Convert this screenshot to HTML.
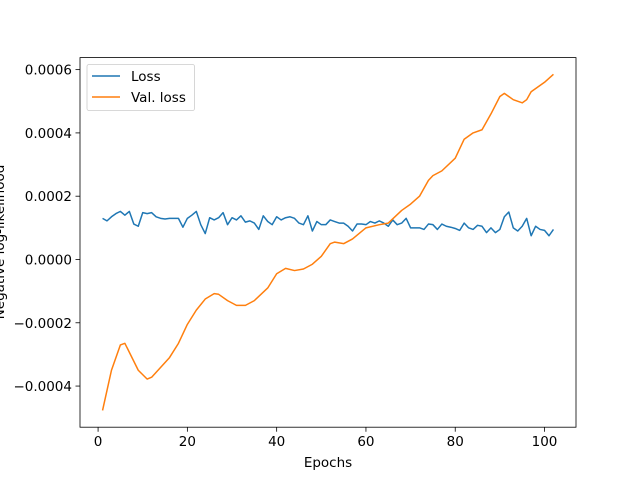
<!DOCTYPE html>
<html><head><meta charset="utf-8"><style>
body{margin:0;background:#fff;}
text{font-family:"DejaVu Sans","Liberation Sans",sans-serif;font-size:13.5px;fill:#000;}
</style></head><body>
<svg id="chart" width="640" height="480" xmlns="http://www.w3.org/2000/svg">
<rect width="640" height="480" fill="#fff"/>
<g id="plot"></g>
</svg>
<script>
const lossValues=[1.3,1.22,1.35,1.45,1.52,1.4,1.52,1.12,1.05,1.48,1.45,1.48,1.35,1.3,1.28,1.3,1.3,1.3,1.02,1.3,1.4,1.52,1.1,0.82,1.32,1.25,1.32,1.48,1.1,1.32,1.25,1.38,1.18,1.22,1.15,0.95,1.38,1.2,1.1,1.35,1.25,1.32,1.35,1.3,1.15,1.1,1.38,0.9,1.2,1.1,1.1,1.25,1.2,1.15,1.15,1.05,0.9,1.12,1.12,1.1,1.2,1.15,1.22,1.15,1.05,1.25,1.1,1.15,1.3,1.0,1.0,1.0,0.95,1.12,1.1,0.95,1.12,1.05,1.02,0.98,0.92,1.15,1.0,0.95,1.08,1.05,0.85,1.0,0.85,0.95,1.35,1.5,1.0,0.9,1.05,1.3,0.75,1.05,0.95,0.92,0.75,0.95];
const valEpochs=[1,3,5,6,9,11,12,16,18,20,22,24,26,27,29,31,33,35,38,40,42,44,46,48,50,52,53,55,57,60,63,65,68,70,72,74,75,77,80,82,84,86,88,90,91,93,95,96,97,100,102];
const valValues=[-4.77,-3.5,-2.7,-2.65,-3.5,-3.78,-3.72,-3.1,-2.65,-2.05,-1.6,-1.25,-1.08,-1.1,-1.3,-1.45,-1.45,-1.3,-0.9,-0.45,-0.28,-0.35,-0.3,-0.15,0.1,0.5,0.55,0.5,0.65,1.0,1.1,1.15,1.55,1.75,2.0,2.5,2.65,2.8,3.2,3.8,4.0,4.1,4.6,5.15,5.25,5.05,4.95,5.05,5.3,5.6,5.85];
const xTicks=[0,20,40,60,80,100];
const yTicks=[-4,-2,0,2,4,6];
const yTickLabels=["\u22120.0004","\u22120.0002","0.0000","0.0002","0.0004","0.0006"];

const L=80,R=576,T=57.6,B=427.2;
const xMin=-4.05,xMax=107.05,yMin=-5.3,yMax=6.38;
const sx=v=>L+(v-xMin)/(xMax-xMin)*(R-L);
const sy=v=>B-(v-yMin)/(yMax-yMin)*(B-T);
const NS="http://www.w3.org/2000/svg";
const g=document.getElementById('plot');
function mk(tag,attrs,parent){const e=document.createElementNS(NS,tag);for(const k in attrs)e.setAttribute(k,attrs[k]);(parent||g).appendChild(e);return e;}

let p=mk('path',{d:lossValues.map((v,i)=>(i?'L':'M')+sx(i+1).toFixed(2)+','+sy(v).toFixed(2)).join(''),fill:'none',stroke:'#1f77b4','stroke-width':1.5,'stroke-linejoin':'round'});


p=mk('path',{d:valValues.map((v,i)=>(i?'L':'M')+sx(valEpochs[i]).toFixed(2)+','+sy(v).toFixed(2)).join(''),fill:'none',stroke:'#ff7f0e','stroke-width':1.5,'stroke-linejoin':'round'});



let fr=mk('rect',{x:L,y:T,width:R-L,height:B-T,fill:'none',stroke:'#000','stroke-width':0.8});



xTicks.forEach(t=>{const x=sx(t);
 mk('line',{x1:x,x2:x,y1:B,y2:B+4.5,stroke:'#000','stroke-width':0.8});
 const tx=mk('text',{x:x,y:B+19,'text-anchor':'middle'});tx.textContent=t;
 
 
});
yTicks.forEach((t,i)=>{const y=sy(t);
 mk('line',{x1:L-4.5,x2:L,y1:y,y2:y,stroke:'#000','stroke-width':0.8});
 const tx=mk('text',{x:L-8,y:y+5,'text-anchor':'end'});tx.textContent=yTickLabels[i];
 
 
});
let xt=mk('text',{x:(L+R)/2,y:467,'text-anchor':'middle'});xt.textContent='Epochs';


let yt=mk('text',{x:0,y:0,'text-anchor':'middle',transform:'translate(4,242) rotate(-90)'});yt.textContent='Negative log-likelihood';



let lg=mk('g',{});


mk('rect',{x:87,y:64.5,width:107.5,height:46,rx:2,fill:'#fff','fill-opacity':0.8,stroke:'#ccc','stroke-width':0.8},lg);
mk('line',{x1:92,x2:120,y1:76,y2:76,stroke:'#1f77b4','stroke-width':1.5},lg);
let t1=mk('text',{x:131,y:81},lg);t1.textContent='Loss';


mk('line',{x1:92,x2:120,y1:97,y2:97,stroke:'#ff7f0e','stroke-width':1.5},lg);
let t2=mk('text',{x:131,y:102},lg);t2.textContent='Val. loss';


</script>
</body></html>
